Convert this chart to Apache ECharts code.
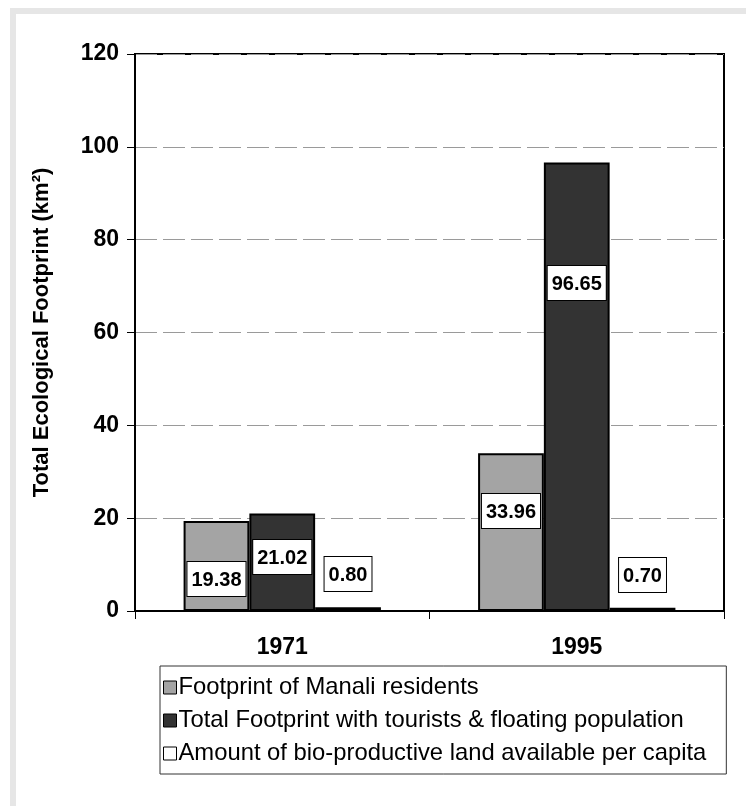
<!DOCTYPE html>
<html lang="en">
<head>
    <meta charset="UTF-8">
    <title>Total Ecological Footprint</title>
    <script src="https://cdn.jsdelivr.net/npm/echarts@6/dist/echarts.min.js"></script>
    <style>
        html, body { margin: 0; padding: 0; background: #fff; }
        #frame {
            position: absolute; left: 10px; top: 8px; width: 736px; height: 798px;
            border-left: 6px solid #e6e6e6; border-top: 6px solid #e6e6e6;
            box-sizing: border-box;
        }
        #box { position: absolute; left: 0; top: 0; width: 746px; height: 806px; }
    </style>
</head>
<body>
<div id="frame"></div>
<div id="box"></div>

<script>
    // data
    var years = ['1971', '1995'];
    var residents = [19.38, 33.96];
    var withTourists = [21.02, 96.65];
    var bioLand = [0.80, 0.70];
    var yTicks = [0, 20, 40, 60, 80, 100, 120];

    var font = 'Liberation Sans, Arial, sans-serif';

    // label height above the axis (px), Excel-style hand placed labels
    function items(values, dists) {
        return values.map(function (v, i) {
            return { value: v, label: { distance: dists[i] } };
        });
    }

    var labelStyle = {
        show: true,
        position: 'insideBottom',
        formatter: function (p) { return p.value.toFixed(2); },
        color: '#000',
        fontFamily: font,
        fontWeight: 'bold',
        fontSize: 20,
        backgroundColor: '#fff',
        borderColor: '#000',
        borderWidth: 1,
        padding: [8, 4, 6, 4]
    };

    var legendItem = { borderColor: '#000', borderWidth: 1 };

    var myChart = echarts.init(document.getElementById('box'));
    var option = {
        animation: false,
        grid: {
            left: 135, top: 54, width: 589, height: 557,
            show: true, borderColor: '#000', borderWidth: 2,
            containLabel: false
        },
        legend: {
            orient: 'vertical',
            left: 160, top: 666,
            icon: 'rect',
            itemWidth: 13, itemHeight: 13,
            itemGap: 8,
            padding: [9, 20, 8, 3],
            borderColor: '#333', borderWidth: 1,
            textStyle: { fontFamily: font, fontSize: 23.8, lineHeight: 25, color: '#000', padding: [0, 0, 0, -3] },
            data: [
                { name: 'Footprint of Manali residents', itemStyle: legendItem },
                { name: 'Total Footprint with tourists & floating population', itemStyle: legendItem },
                { name: 'Amount of bio-productive land available per capita', itemStyle: legendItem }
            ]
        },
        xAxis: {
            type: 'category',
            data: years,
            axisLine: { lineStyle: { color: '#000', width: 2 } },
            axisTick: { show: true, length: 8, lineStyle: { color: '#000' } },
            axisLabel: { color: '#000', fontFamily: font, fontWeight: 'bold', fontSize: 23, margin: 25 }
        },
        yAxis: {
            type: 'value',
            min: 0, max: 120, interval: 20,
            name: 'Total Ecological Footprint (km\u00b2)',
            nameLocation: 'middle',
            nameGap: 82,
            nameTextStyle: { color: '#000', fontFamily: font, fontWeight: 'bold', fontSize: 22 },
            axisLine: { show: true, lineStyle: { color: '#000', width: 2 } },
            axisTick: { show: true, length: 8, lineStyle: { color: '#000' } },
            axisLabel: {
                color: '#000', fontFamily: font, fontWeight: 'bold', fontSize: 23, margin: 16,
                formatter: function (v) { return yTicks.indexOf(v) >= 0 ? String(v) : ''; }
            },
            splitLine: { show: true, lineStyle: { color: '#9a9a9a', type: [22, 6], width: 1 } }
        },
        series: [
            {
                name: 'Footprint of Manali residents',
                type: 'bar',
                barGap: '0%',
                barCategoryGap: '33%',
                data: items(residents, [15, 83]),
                itemStyle: { color: '#a4a4a4', borderColor: '#000', borderWidth: 2 },
                label: labelStyle
            },
            {
                name: 'Total Footprint with tourists & floating population',
                type: 'bar',
                data: items(withTourists, [37, 311]),
                itemStyle: { color: '#333333', borderColor: '#000', borderWidth: 2 },
                label: labelStyle
            },
            {
                name: 'Amount of bio-productive land available per capita',
                type: 'bar',
                data: items(bioLand, [20, 19]),
                itemStyle: { color: '#fff', borderColor: '#000', borderWidth: 2 },
                label: labelStyle
            }
        ]
    };
    myChart.setOption(option);
</script>
</body>
</html>
